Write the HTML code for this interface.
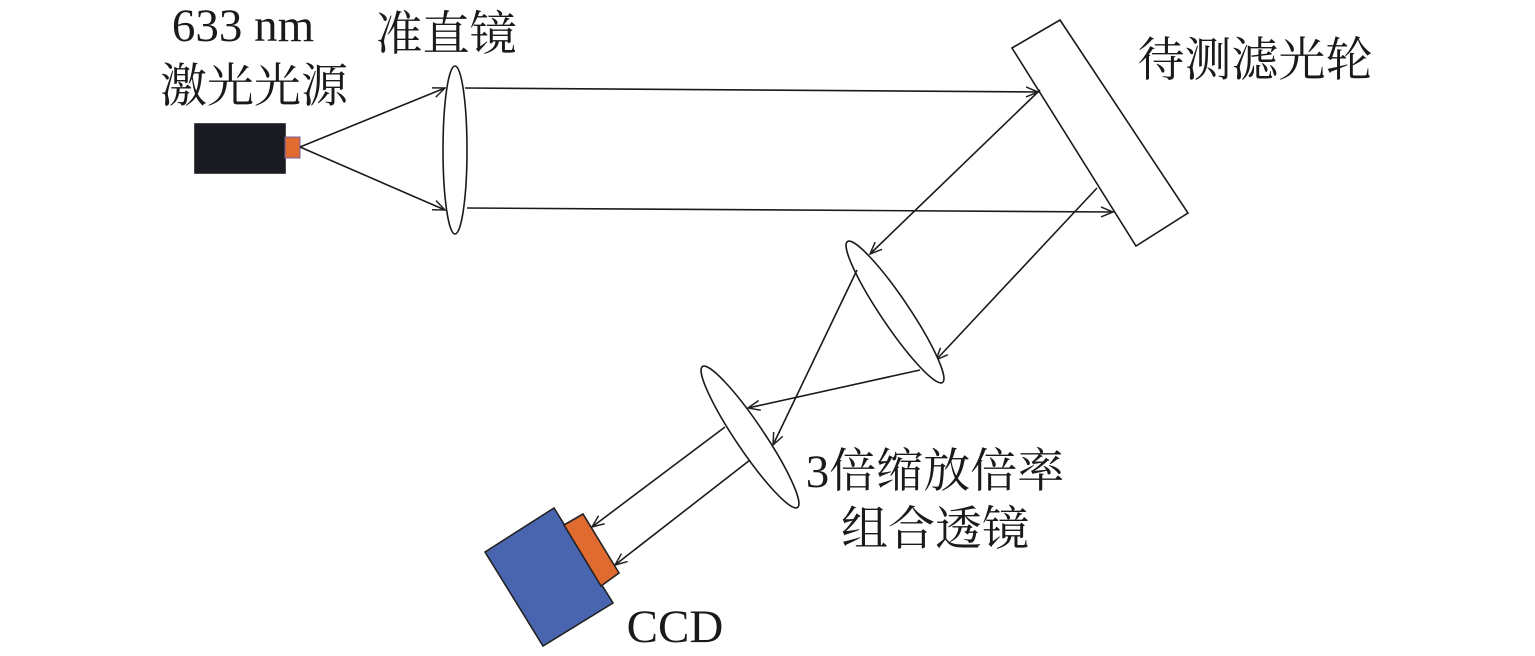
<!DOCTYPE html>
<html><head><meta charset="utf-8"><style>
html,body{margin:0;padding:0;background:#fff;}
svg{display:block;}
text{font-family:"Liberation Serif","Noto Serif CJK SC",serif;fill:#1a1a1a;}
</style></head><body>
<svg width="1535" height="656" viewBox="0 0 1535 656" xmlns="http://www.w3.org/2000/svg">
<defs>
<marker id="a" markerWidth="14" markerHeight="12" refX="13" refY="6" orient="auto" markerUnits="userSpaceOnUse">
<path d="M1,1 L13,6 L1,11" fill="none" stroke="#222" stroke-width="1.5"/>
</marker>
</defs>
<g stroke="#1a1a1a" stroke-width="1.6" fill="none">
<rect x="195" y="124" width="90" height="49" fill="#1a1a22" stroke="#1a1a22"/>
<rect x="285" y="137" width="15" height="21" fill="#e06a30" stroke="#7060a0" stroke-width="1"/>
<line x1="300" y1="147" x2="445" y2="88" marker-end="url(#a)"/>
<line x1="300" y1="147" x2="445" y2="210" marker-end="url(#a)"/>
<ellipse cx="455" cy="150" rx="12" ry="84" fill="#fff"/>
<line x1="465" y1="88" x2="1038" y2="92" marker-end="url(#a)"/>
<line x1="467" y1="208" x2="1113" y2="212" marker-end="url(#a)"/>
<polygon points="1012,48 1060,20 1188,213 1136,246" fill="#fff"/>
<line x1="1040" y1="90" x2="870" y2="254" marker-end="url(#a)"/>
<line x1="1097" y1="188" x2="936" y2="360" marker-end="url(#a)"/>
<ellipse cx="895" cy="312" rx="85" ry="14" transform="rotate(56 895 312)" fill="#fff"/>
<line x1="857" y1="270" x2="773" y2="445" marker-end="url(#a)"/>
<line x1="920" y1="370" x2="748" y2="408" marker-end="url(#a)"/>
<ellipse cx="750" cy="437" rx="85" ry="14" transform="rotate(56 750 437)" fill="none"/>
<line x1="725" y1="427" x2="592" y2="527" marker-end="url(#a)"/>
<line x1="750" y1="460" x2="615" y2="565" marker-end="url(#a)"/>
<polygon points="485,552 554,508 613,603 543,646" fill="#4a65b0" stroke="#222"/>
<polygon points="564,525 583,514 619,573 601,586" fill="#e06a30" stroke="#222"/>
</g>
<text x="243" y="41" font-size="47" text-anchor="middle">633 nm</text>
<text x="254" y="102" font-size="47" text-anchor="middle">激光光源</text>
<text x="446" y="50" font-size="47" text-anchor="middle">准直镜</text>
<text x="1255" y="76" font-size="47" text-anchor="middle">待测滤光轮</text>
<text x="935" y="487" font-size="47" text-anchor="middle">3倍缩放倍率</text>
<text x="935" y="545" font-size="47" text-anchor="middle">组合透镜</text>
<text x="675" y="642" font-size="47" text-anchor="middle">CCD</text>
</svg>
</body></html>
